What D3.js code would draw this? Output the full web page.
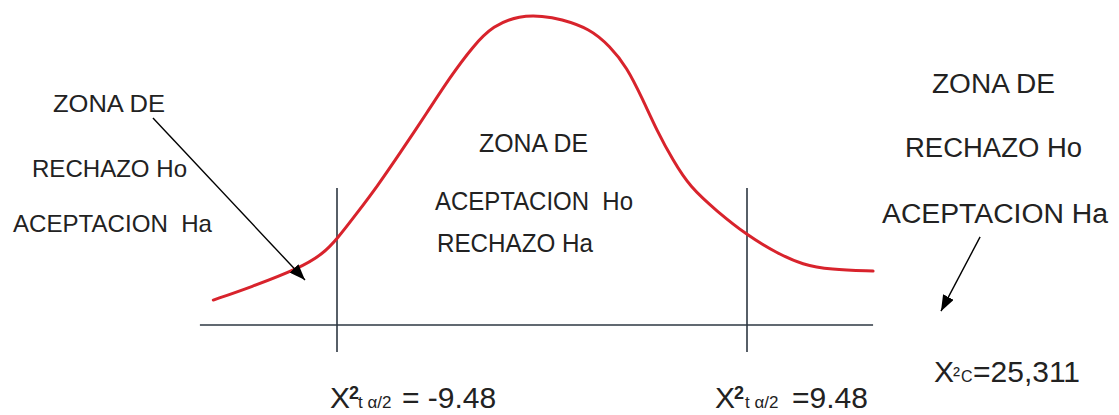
<!DOCTYPE html>
<html lang="es">

<head>
    <meta charset="UTF-8">
    <script src="https://d3js.org/d3.v7.min.js"></script>
    <title>Zona de rechazo / aceptacion</title>
</head>

<body style="margin: 0; background: #fff;">
<script>
    // curve: x in chi-square units, y relative height (peak = 1)
    const curveX = [-15.20, -13.50, -11.19, -10.13, -9.49, -8.57, -7.64, -6.57, -5.33, -4.25, -3.19, -2.27, -1.02,
        0.05, 0.83, 2.22, 3.14, 3.92, 4.67, 5.30, 6.06, 6.84, 8.08, 9.47, 10.85, 12.07, 13.32, 15.31];
    const curveY = [0.081, 0.122, 0.185, 0.231, 0.278, 0.362, 0.448, 0.558, 0.688, 0.805, 0.905, 0.972, 1.005,
        1.003, 0.994, 0.962, 0.905, 0.838, 0.731, 0.633, 0.534, 0.448, 0.370, 0.292, 0.234, 0.195, 0.180, 0.175];

    const criticalValues = [-9.48, 9.48];
    const criticalLabels = ["= -9.48", "=9.48"];
    const calcValue = "=25,311";

    const leftZone = ["ZONA DE", "RECHAZO Ho", "ACEPTACION  Ha"];
    const centerZone = ["ZONA DE", "ACEPTACION  Ho", "RECHAZO Ha"];
    const rightZone = ["ZONA DE", "RECHAZO Ho", "ACEPTACION Ha"];

    const width = 1119;
    const height = 415;
    const font = "'Liberation Sans', Arial, sans-serif";
    const ink = "#222";
    const lineColor = "#2d3742";

    const x = d3.scaleLinear()
        .domain(criticalValues)
        .range([337, 747]);

    const y = d3.scaleLinear()
        .domain([0, 1])
        .range([325, 17]);

    const svg = d3.select("body")
        .append("svg")
        .attr("width", width)
        .attr("height", height)
        .attr("viewBox", [0, 0, width, height])
        .style("font-family", font);

    svg.append("defs").append("marker")
        .attr("id", "head")
        .attr("markerUnits", "userSpaceOnUse")
        .attr("markerWidth", 16)
        .attr("markerHeight", 12)
        .attr("refX", 16)
        .attr("refY", 6)
        .attr("orient", "auto")
        .append("path")
        .attr("d", "M0,0L16,6L0,12Z")
        .attr("fill", "#000");

    // horizontal axis
    svg.append("line")
        .attr("x1", x(-15.82))
        .attr("x2", x(15.31))
        .attr("y1", y(0))
        .attr("y2", y(0))
        .attr("stroke", lineColor)
        .attr("stroke-width", 1.6);

    // critical value lines
    svg.selectAll("line.crit")
        .data(criticalValues)
        .join("line")
        .attr("class", "crit")
        .attr("x1", d => x(d))
        .attr("x2", d => x(d))
        .attr("y1", y(0.445))
        .attr("y2", y(-0.088))
        .attr("stroke", lineColor)
        .attr("stroke-width", 1.6);

    const line = d3.line()
        .curve(d3.curveBasis)
        .x((d, i) => x(curveX[i]))
        .y(d => y(d));

    svg.append("path")
        .datum(curveY)
        .attr("fill", "none")
        .attr("stroke", "#d8232c")
        .attr("stroke-width", 3)
        .attr("stroke-linecap", "round")
        .attr("d", line);

    // arrows (data units)
    const arrows = [
        [[-17.99, 0.672], [-10.96, 0.146]],
        [[20.26, 0.286], [18.45, 0.045]]
    ];
    svg.selectAll("line.arrow")
        .data(arrows)
        .join("line")
        .attr("class", "arrow")
        .attr("x1", d => x(d[0][0]))
        .attr("y1", d => y(d[0][1]))
        .attr("x2", d => x(d[1][0]))
        .attr("y2", d => y(d[1][1]))
        .attr("stroke", "#000")
        .attr("stroke-width", 1.4)
        .attr("marker-end", "url(#head)");

    // zone labels
    function block(lines, layout, size) {
        svg.append("g")
            .selectAll("text")
            .data(lines)
            .join("text")
            .attr("x", (d, i) => layout[i][0])
            .attr("y", (d, i) => layout[i][1])
            .attr("textLength", (d, i) => layout[i][2])
            .attr("lengthAdjust", "spacingAndGlyphs")
            .attr("font-size", size)
            .attr("fill", ink)
            .style("white-space", "pre")
            .text(d => d);
    }
    block(leftZone, [[53, 112, 112], [32, 177, 155], [13, 232, 199]], 24);
    block(centerZone, [[479, 152, 109], [435, 210, 198], [437, 252, 156]], 25);
    block(rightZone, [[932, 93, 123], [905, 157, 177], [882, 223, 226]], 27);

    // critical value labels
    const critPos = [[330, 358, 402], [715, 745, 792]];
    criticalLabels.forEach((lab, i) => {
        const t = svg.append("text")
            .attr("y", 408)
            .attr("fill", ink)
            .attr("font-size", 30)
            .style("white-space", "pre");
        t.append("tspan").attr("x", critPos[i][0]).text("X");
        t.append("tspan").attr("x", critPos[i][0] + 19).attr("dy", -9)
            .attr("font-size", 18).attr("font-weight", "bold").text("2");
        t.append("tspan").attr("x", critPos[i][1]).attr("dy", 9)
            .attr("font-size", 17).text("t α/2");
        t.append("tspan").attr("x", critPos[i][2]).text(lab);
    });

    // calculated value
    const c = svg.append("text")
        .attr("y", 382)
        .attr("fill", ink)
        .attr("font-size", 30);
    c.append("tspan").attr("x", 934).text("X");
    c.append("tspan").attr("x", 953).attr("font-size", 21).text("²");
    c.append("tspan").attr("x", 961).attr("font-size", 16).text("C");
    c.append("tspan").attr("x", 973).text(calcValue);
</script>
</body>

</html>
